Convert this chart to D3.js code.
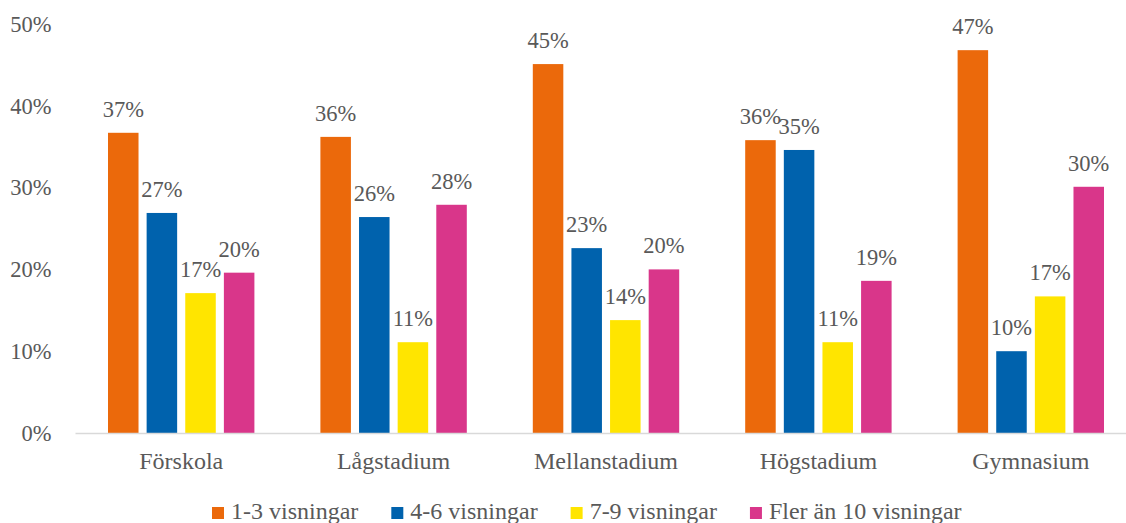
<!DOCTYPE html>
<html>
<head>
<meta charset="utf-8">
<script src="https://cdn.jsdelivr.net/npm/d3@7"></script>
<style>
  body { margin: 0; background: #fff; }
</style>
</head>
<body>
<div class="container"></div>
<script>
var categories = ['Förskola', 'Lågstadium', 'Mellanstadium', 'Högstadium', 'Gymnasium'];
var seriesNames = ['1-3 visningar', '4-6 visningar', '7-9 visningar', 'Fler än 10 visningar'];
var seriesColors = ['#EB690B', '#0062AD', '#FFE500', '#D9368A'];

var visningar13 = [0.367, 0.362, 0.451, 0.358, 0.468];
var visningar46 = [0.269, 0.264, 0.226, 0.346, 0.100];
var visningar79 = [0.171, 0.111, 0.138, 0.111, 0.167];
var visningar10 = [0.196, 0.279, 0.200, 0.186, 0.301];
var yTicks = [0, 0.1, 0.2, 0.3, 0.4, 0.5];

var width = 1126;
var height = 523;
var plotLeft = 75;
var plotRight = 1137;
var plotTop = 24;
var plotBottom = 433;
var smallFont = 22.5;
var bigFont = 24;
var serif = "'Liberation Serif', 'Times New Roman', Times, serif";
var textColor = '#595959';

var values = [visningar13, visningar46, visningar79, visningar10];
var pct = d3.format('.0%');

var XScale = d3.scaleBand()
    .domain(categories)
    .range([plotLeft, plotRight])
    .padding(0);

var XInner = d3.scaleBand()
    .domain(seriesNames)
    .range([33, XScale.bandwidth() - 33])
    .paddingInner(0.21)
    .paddingOuter(0);

var YScale = d3.scaleLinear()
    .domain([0, 0.5])
    .range([plotBottom, plotTop]);

var svg = d3.select('.container').append('svg')
    .attr('width', width)
    .attr('height', height)
    .attr('font-family', serif);

var styleText = function(sel, size) {
    sel.attr('font-family', serif)
        .attr('font-size', size)
        .attr('fill', textColor);
};

// y axis labels only
var yAxis = d3.axisLeft(YScale)
    .tickValues(yTicks)
    .tickFormat(pct)
    .tickSize(0)
    .tickPadding(23.5);

var yG = svg.append('g')
    .attr('transform', 'translate(' + plotLeft + ',0)')
    .call(yAxis)
    .attr('font-family', serif);
yG.select('.domain').remove();
yG.selectAll('text').call(styleText, smallFont);

// bars
var rows = [];
categories.forEach(function(c, i) {
    seriesNames.forEach(function(s, j) {
        rows.push({cat: c, series: s, value: values[j][i], color: seriesColors[j]});
    });
});

var chart = svg.append('g').classed('chart', true);

chart.selectAll('rect')
    .data(rows)
    .enter().append('rect')
    .attr('x', function(d) { return XScale(d.cat) + XInner(d.series); })
    .attr('y', function(d) { return YScale(d.value); })
    .attr('width', XInner.bandwidth())
    .attr('height', function(d) { return plotBottom - YScale(d.value); })
    .attr('fill', function(d) { return d.color; });

chart.selectAll('text.label')
    .data(rows)
    .enter().append('text')
    .classed('label', true)
    .attr('x', function(d) { return XScale(d.cat) + XInner(d.series) + XInner.bandwidth() / 2; })
    .attr('y', function(d) { return YScale(d.value) - 16; })
    .attr('text-anchor', 'middle')
    .call(styleText, smallFont)
    .text(function(d) { return pct(Math.round(d.value * 100) / 100); });

// x axis
var xAxis = d3.axisBottom(XScale)
    .tickSize(0)
    .tickPadding(19);

var xG = svg.append('g')
    .attr('transform', 'translate(0,' + plotBottom + ')')
    .call(xAxis)
    .attr('font-family', serif);
xG.select('.domain')
    .attr('stroke', '#D9D9D9')
    .attr('stroke-width', 1.5);
xG.selectAll('text').call(styleText, bigFont);

// legend
var legend = svg.append('g').classed('legend', true);
var lx = 212;
seriesNames.forEach(function(name, j) {
    var item = legend.append('g').attr('transform', 'translate(' + lx + ',0)');
    item.append('rect')
        .attr('x', 0)
        .attr('y', 507)
        .attr('width', 12)
        .attr('height', 12)
        .attr('fill', seriesColors[j]);
    var t = item.append('text')
        .attr('x', 19)
        .attr('y', 519)
        .call(styleText, bigFont)
        .text(name);
    lx += 19 + t.node().getComputedTextLength() + 33;
});
</script>
</body>
</html>
